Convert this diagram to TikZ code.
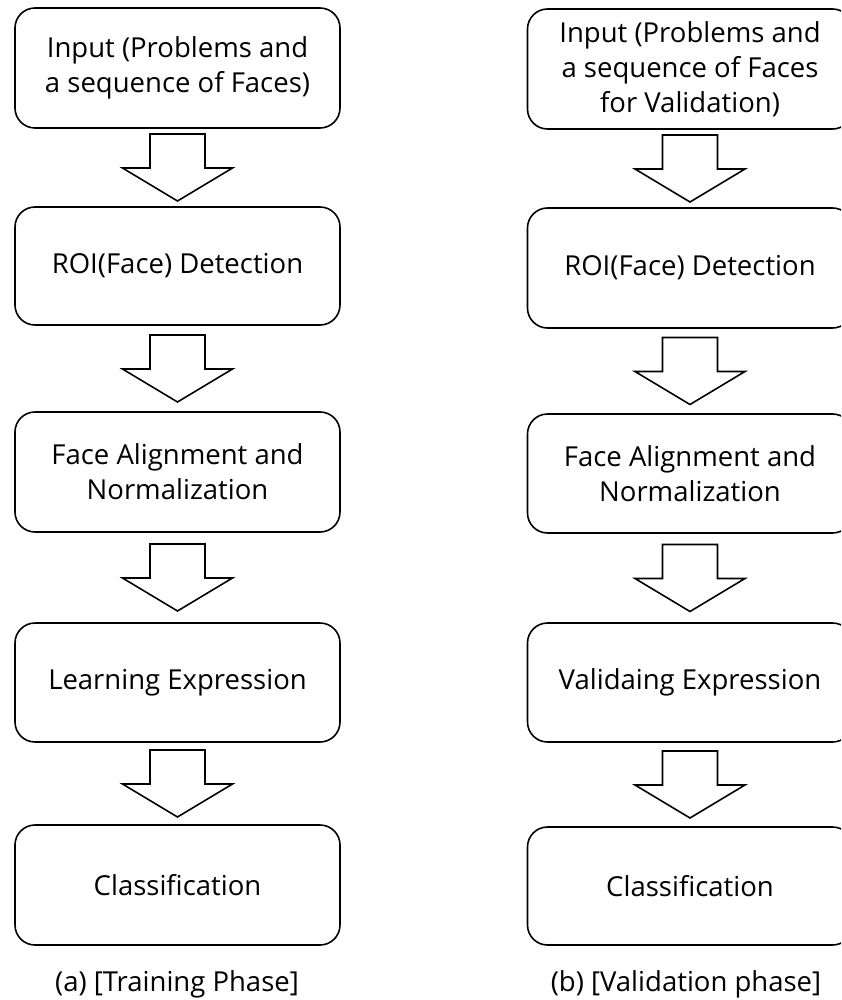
\documentclass[tikz,border=0pt]{standalone}
\usepackage{fontspec}
\setmainfont{Open Sans}
\usetikzlibrary{calc}
\tikzset{
  box/.style={draw, line width=1.6pt, rounded corners=20pt, minimum width=325pt,
    inner sep=0pt, align=center, font=\fontsize{27.5}{35}\selectfont},
  blockarrow/.style={draw, line width=1.6pt, fill=white, line join=miter},
  caption/.style={inner sep=0pt, font=\fontsize{27.5}{35}\selectfont}
}
\newcommand\flowarrow[2]{%
  \draw[blockarrow] let \p1=(#1.south), \p2=(#2.north),
      \p3=($(#1.south)!0.5!(#2.north)$) in
    (\x3-27.5pt,\y3+33.5pt) -- (\x3+27.5pt,\y3+33.5pt) --
    (\x3+27.5pt,\y3-0.5pt) -- (\x3+55pt,\y3-0.5pt) --
    (\x3,\y3-33.5pt) -- (\x3-55pt,\y3-0.5pt) --
    (\x3-27.5pt,\y3-0.5pt) -- cycle;}
\begin{document}
\begin{tikzpicture}[x=1pt,y=-1pt]
\useasboundingbox (0,0) rectangle (841,1000);
\clip (0,0) rectangle (841,1000);
% left column
\node[box, minimum height=120pt] (a1) at (177.5,68) {Input (Problems and\\a sequence of Faces)};
\node[box, minimum height=118pt] (a2) at (177.5,266) {ROI(Face) Detection};
\node[box, minimum height=120pt] (a3) at (177.5,472) {Face Alignment and\\Normalization};
\node[box, minimum height=119pt] (a4) at (177.5,682.5) {Learning Expression};
\node[box, minimum height=120pt] (a5) at (177.5,885) {Classification};
\node[caption] (ca) at (177,984) {(a) [Training Phase]};
% right column
\node[box, minimum height=120pt] (b1) at (690,69) {Input (Problems and\\a sequence of Faces\\for Validation)};
\node[box, minimum height=120pt] (b2) at (690,268) {ROI(Face) Detection};
\node[box, minimum height=119pt] (b3) at (690,473.5) {Face Alignment and\\Normalization};
\node[box, minimum height=119pt] (b4) at (690,682.5) {Validaing Expression};
\node[box, minimum height=118pt] (b5) at (690,886) {Classification};
\node[caption] (cb) at (686,984) {(b) [Validation phase]};
% arrows
\flowarrow{a1}{a2}
\flowarrow{a2}{a3}
\flowarrow{a3}{a4}
\flowarrow{a4}{a5}
\flowarrow{b1}{b2}
\flowarrow{b2}{b3}
\flowarrow{b3}{b4}
\flowarrow{b4}{b5}
\end{tikzpicture}
\end{document}
